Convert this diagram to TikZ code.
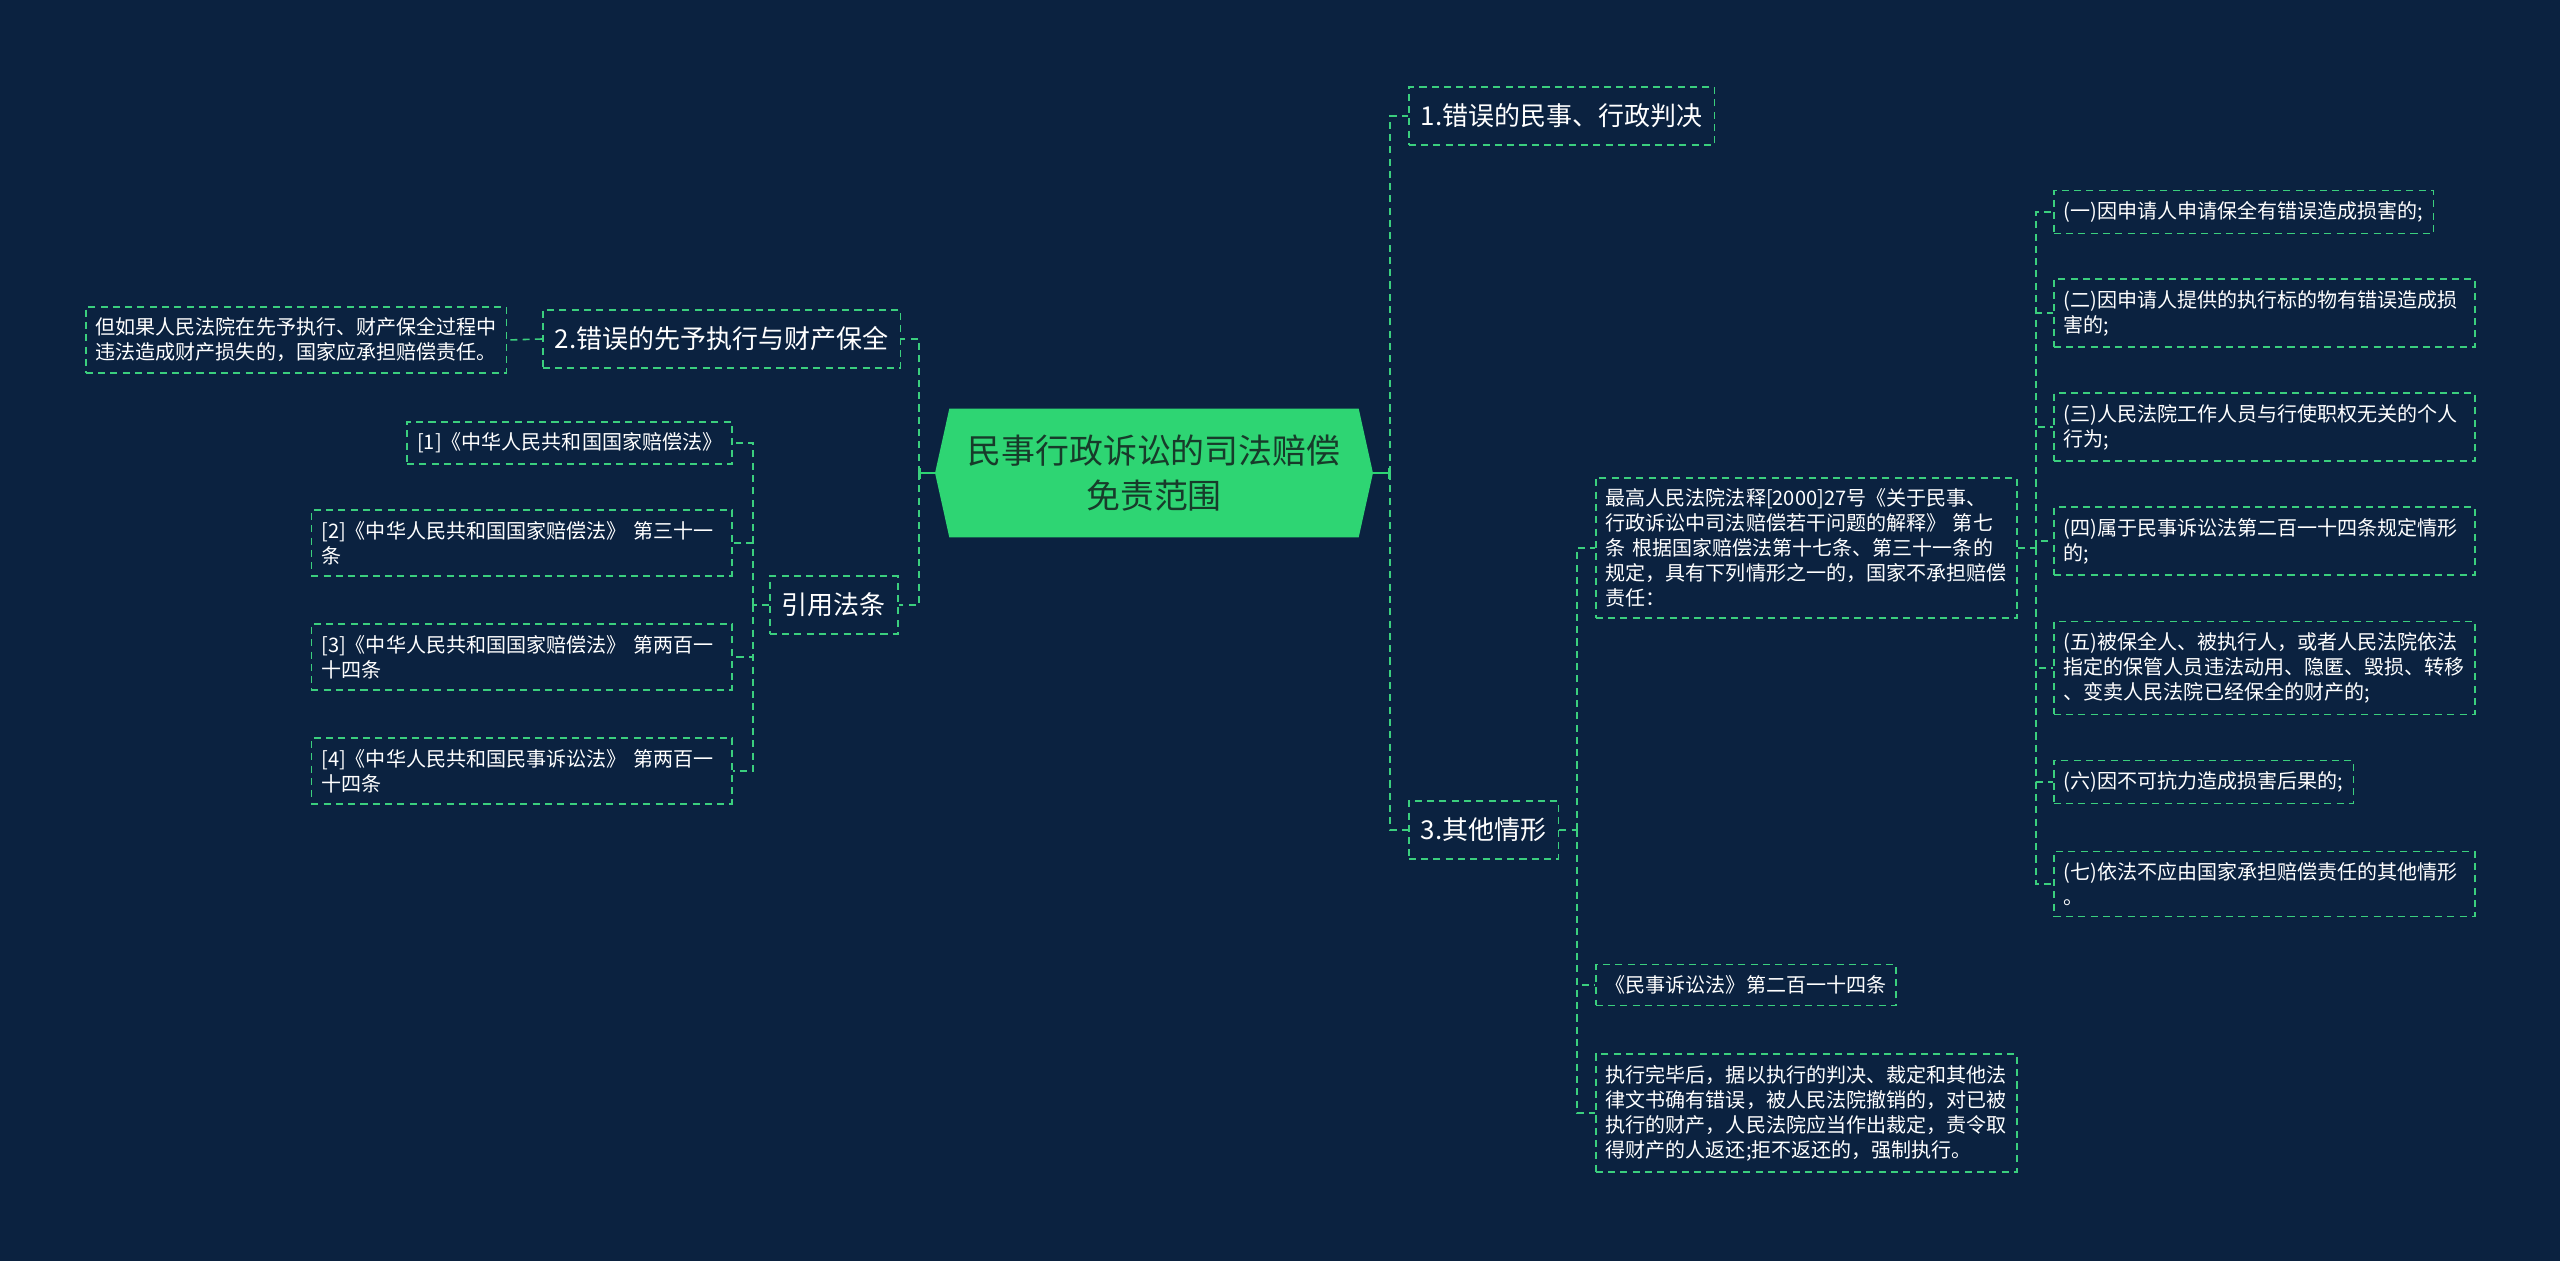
\documentclass[tikz,border=0pt]{standalone}
\usepackage{fontspec}
\setmainfont{Noto Sans CJK SC}
\usetikzlibrary{arrows.meta,shapes.symbols}
\definecolor{bgnavy}{HTML}{0B2240}
\definecolor{mint}{HTML}{3BCF7E}
\definecolor{rootgreen}{HTML}{2ED573}
\definecolor{rootink}{HTML}{173B2A}

\begin{document}
\begin{tikzpicture}[x=0.02cm, y=-0.02cm,
    leaf/.style={draw=mint, dash pattern=on 4pt off 3pt, line width=0.9pt, text=white,
        align=left, anchor=west, inner xsep=0.2cm, inner ysep=0.22cm,
        font=\fontsize{11.4}{14.2}\selectfont},
    wideleaf/.style={leaf, text width=8.02cm},
    topic/.style={leaf, inner xsep=0.24cm, inner ysep=0.34cm, font=\fontsize{14.8}{18}\selectfont},
    link/.style={mint, dash pattern=on 4pt off 3pt, line width=0.9pt},
    stub/.style={rootgreen, line width=1.2pt, -{Bar[width=0.22cm]}}]
    \fill[bgnavy] (0,0) rectangle (2560,1261);

    % centre
    \node[signal, signal to=west and east, signal pointer angle=155, fill=rootgreen,
        text=rootink, align=center, minimum width=8.76cm, minimum height=2.58cm,
        font=\fontsize{19.3}{25.5}\selectfont] (root) at (1154,473)
        {民事行政诉讼的司法赔偿\\免责范围};

    % left side
    \node[topic] (err2) at (542,339) {2.错误的先予执行与财产保全};
    \node[leaf] (err2note) at (85,340)
        {但如果人民法院在先予执行、财产保全过程中\\违法造成财产损失的，国家应承担赔偿责任。};
    \node[topic] (cite) at (769,605) {引用法条};
    \node[leaf, anchor=east] (cite1) at (733,443) {[1]《中华人民共和国国家赔偿法》};
    \node[wideleaf, anchor=east] (cite2) at (733,543) {[2]《中华人民共和国国家赔偿法》 第三十一\\条};
    \node[wideleaf, anchor=east] (cite3) at (733,657) {[3]《中华人民共和国国家赔偿法》 第两百一\\十四条};
    \node[wideleaf, anchor=east] (cite4) at (733,771) {[4]《中华人民共和国民事诉讼法》 第两百一\\十四条};

    % right side
    \node[topic] (err1) at (1408,116) {1.错误的民事、行政判决};
    \node[topic] (other) at (1408,830) {3.其他情形};
    \node[wideleaf] (interp) at (1595,548)
        {最高人民法院法释[2000]27号《关于民事、\\行政诉讼中司法赔偿若干问题的解释》 第七\\条 根据国家赔偿法第十七条、第三十一条的\\规定，具有下列情形之一的，国家不承担赔偿\\责任：};
    \node[leaf] (civlaw) at (1595,985) {《民事诉讼法》第二百一十四条};
    \node[wideleaf] (undo) at (1595,1113)
        {执行完毕后，据以执行的判决、裁定和其他法\\律文书确有错误，被人民法院撤销的，对已被\\执行的财产，人民法院应当作出裁定，责令取\\得财产的人返还;拒不返还的，强制执行。};

    \node[leaf] (case1) at (2053,212) {(一)因申请人申请保全有错误造成损害的;};
    \node[wideleaf] (case2) at (2053,313) {(二)因申请人提供的执行标的物有错误造成损\\害的;};
    \node[wideleaf] (case3) at (2053,427) {(三)人民法院工作人员与行使职权无关的个人\\行为;};
    \node[wideleaf] (case4) at (2053,541) {(四)属于民事诉讼法第二百一十四条规定情形\\的;};
    \node[wideleaf] (case5) at (2053,668) {(五)被保全人、被执行人，或者人民法院依法\\指定的保管人员违法动用、隐匿、毁损、转移\\、变卖人民法院已经保全的财产的;};
    \node[leaf] (case6) at (2053,782) {(六)因不可抗力造成损害后果的;};
    \node[wideleaf] (case7) at (2053,884) {(七)依法不应由国家承担赔偿责任的其他情形\\。};

    % branch points
    \coordinate (lspine) at (919,473);
    \coordinate (rspine) at (1390,473);
    \coordinate (citespine) at (753,605);
    \coordinate (otherspine) at (1577,830);
    \coordinate (interpspine) at (2036,548);

    \draw[stub] (root.west) -- (lspine);
    \draw[stub] (root.east) -- (rspine);
    \draw[link] (lspine) |- (err2.east);
    \draw[link] (lspine) |- (cite.east);
    \draw[link] (err2.west) -- (err2note.east);
    \draw[link] (cite.west) -- (citespine);
    \foreach \c in {cite1,cite2,cite3,cite4}
        \draw[link] (citespine) |- (\c.east);
    \draw[link] (rspine) |- (err1.west);
    \draw[link] (rspine) |- (other.west);
    \draw[link] (other.east) -- (otherspine);
    \foreach \c in {interp,civlaw,undo}
        \draw[link] (otherspine) |- (\c.west);
    \draw[link] (interp.east) -- (interpspine);
    \foreach \c in {case1,case2,case3,case4,case5,case6,case7}
        \draw[link] (interpspine) |- (\c.west);
\end{tikzpicture}
\end{document}
